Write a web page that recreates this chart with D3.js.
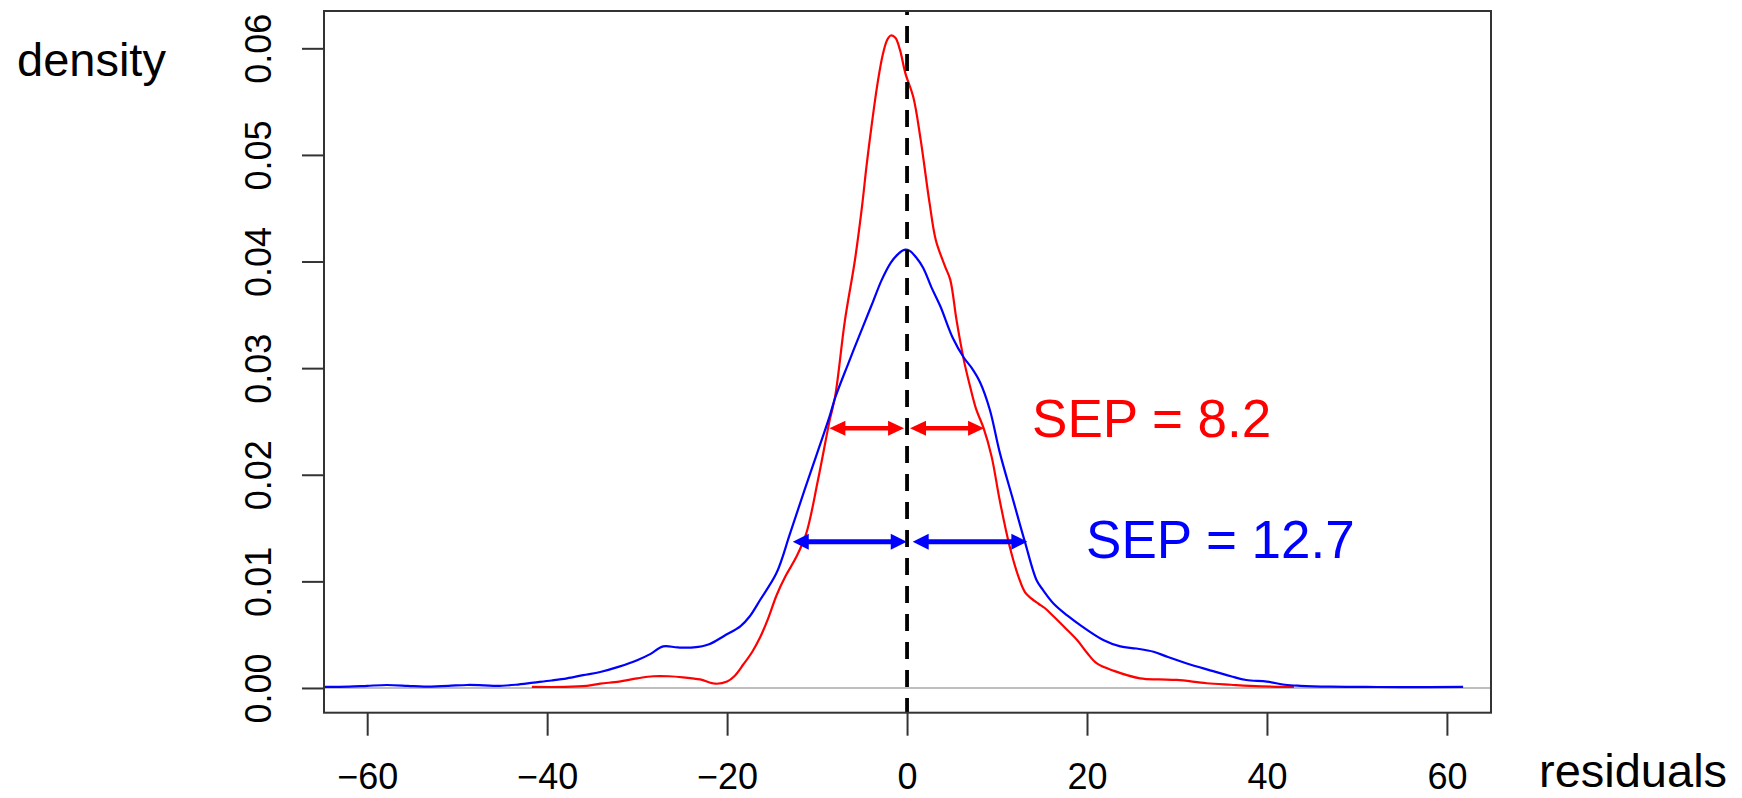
<!DOCTYPE html>
<html>
<head>
<meta charset="utf-8">
<script src="https://cdn.jsdelivr.net/npm/d3@7"></script>
<style>
  html, body { margin: 0; padding: 0; background: #fff; }
  svg { display: block; font-family: "Liberation Sans", Arial, sans-serif; }
</style>
</head>
<body>
<svg id="chart" width="1742" height="798"></svg>
<script>
// ---------------- data ----------------
const xTicks = [-60, -40, -20, 0, 20, 40, 60];
const xTickLabels = ["\u221260", "\u221240", "\u221220", "0", "20", "40", "60"];
const yTicks = [0, 0.01, 0.02, 0.03, 0.04, 0.05, 0.06];
const yTickLabels = ["0.00", "0.01", "0.02", "0.03", "0.04", "0.05", "0.06"];

const redX = [-41.7, -38, -35.6, -34.1, -32, -30, -28.2, -26.5, -24.9, -23, -21.3, -20, -19.2, -18.2, -17.2, -16.3, -15.4, -14.5, -13.5, -12.3, -11.2, -9.9, -8.6, -8.0, -6.9, -5.8, -5.0, -4.5, -3.9, -3.3, -2.7, -2.2, -1.8, -1.3, -0.8, -0.2, 0.7, 1.5, 2.5, 3.2, 4.2, 4.8, 5.5, 6.3, 7.0, 7.7, 8.5, 9.4, 10.3, 11.4, 12.4, 13.1, 13.8, 14.6, 15.3, 16.3, 17.5, 18.9, 20, 21.1, 23, 25.9, 28, 30, 33.3, 36, 38.1, 41.8, 43];
const redY = [0.0001, 0.0001, 0.0002, 0.0004, 0.0006, 0.0009, 0.0011, 0.0011, 0.0010, 0.0008, 0.0004, 0.0006, 0.0011, 0.0022, 0.0034, 0.0048, 0.0066, 0.0087, 0.0105, 0.0123, 0.0145, 0.0195, 0.0251, 0.0273, 0.0345, 0.0401, 0.0452, 0.0490, 0.0530, 0.0566, 0.0594, 0.0608, 0.0612, 0.0610, 0.0599, 0.0577, 0.0554, 0.0515, 0.0455, 0.0420, 0.0396, 0.0383, 0.0345, 0.0308, 0.0283, 0.0261, 0.0244, 0.0217, 0.0176, 0.0133, 0.0104, 0.0090, 0.0084, 0.0079, 0.0075, 0.0067, 0.0057, 0.0045, 0.0033, 0.0023, 0.0016, 0.0009, 0.0008, 0.00075, 0.00044, 0.0003, 0.0002, 0.0001, 0.0001];

const blueX = [-64.8, -62, -60, -57.8, -55.5, -53.7, -51, -48.9, -47, -45.6, -43.5, -41.5, -39.5, -37.8, -36, -34.1, -32, -30, -28.5, -27.1, -25.5, -23.7, -22, -20.3, -18.5, -17.5, -16.3, -14.5, -13, -11.5, -10, -8.6, -8.0, -6.5, -4.9, -3.8, -2.8, -1.8, -1.0, -0.3, 0.3, 1.0, 1.8, 2.7, 3.7, 5.1, 6.3, 7.2, 8.1, 9.2, 10.3, 11.8, 13.1, 14.4, 15.1, 16.3, 17.8, 19.4, 21.8, 23.7, 25.5, 27.4, 29, 31.1, 33.5, 36, 37.7, 40, 42, 43.7, 47, 51, 55, 61.8];
const blueY = [0.0001, 0.00012, 0.0002, 0.00028, 0.0002, 0.00012, 0.0002, 0.00028, 0.00025, 0.00019, 0.0003, 0.0005, 0.0007, 0.0009, 0.0012, 0.0015, 0.0020, 0.0026, 0.0032, 0.0039, 0.0038, 0.0038, 0.0041, 0.0049, 0.0058, 0.0067, 0.0083, 0.0108, 0.0145, 0.0183, 0.0220, 0.0255, 0.0272, 0.0305, 0.0339, 0.0362, 0.0383, 0.0399, 0.0407, 0.0411, 0.0410, 0.0404, 0.0394, 0.0376, 0.0358, 0.0328, 0.0310, 0.0300, 0.0287, 0.0261, 0.0221, 0.0176, 0.0137, 0.0101, 0.0092, 0.0079, 0.0068, 0.0058, 0.0045, 0.0039, 0.0037, 0.0034, 0.0029, 0.0023, 0.0017, 0.0011, 0.00075, 0.0006, 0.0003, 0.0002, 0.00012, 0.0001, 0.00008, 0.0001];

const sepLabels = ["SEP = 8.2", "SEP = 12.7"];
const sepColors = ["#ff0000", "#0000ff"];
const sepLabelX = [13.9, 19.9];
const sepLabelY = [0.02352, 0.01217];
const arrowLevels = [0.02436, 0.01372];
const redArrows = [[-8.63, -0.33], [0.33, 8.56]];
const blueArrows = [[-12.7, -0.03], [0.63, 13.37]];

const xDomain = [-64.8, 64.9];
const yDomain = [-0.00232, 0.0635];

// ---------------- layout ----------------
const plot = { left: 324, right: 1491, top: 11, bottom: 712.7 };
const svg = d3.select("#chart");

const x = d3.scaleLinear().domain(xDomain).range([plot.left, plot.right]);
const y = d3.scaleLinear().domain(yDomain).range([plot.bottom, plot.top]);

svg.append("defs").append("clipPath").attr("id", "clip")
  .append("rect")
  .attr("x", plot.left).attr("y", plot.top)
  .attr("width", plot.right - plot.left).attr("height", plot.bottom - plot.top);

const g = svg.append("g").attr("clip-path", "url(#clip)");

// zero line
g.append("line")
  .attr("x1", plot.left).attr("x2", plot.right)
  .attr("y1", y(0)).attr("y2", y(0))
  .attr("stroke", "#bebebe").attr("stroke-width", 2);

const line = d3.line().curve(d3.curveCatmullRom.alpha(0.5))
  .x(d => x(d[0])).y(d => y(d[1]));

g.append("path")
  .datum(redX.map((v, i) => [v, redY[i]]))
  .attr("d", line).attr("fill", "none")
  .attr("stroke", "#ff0000").attr("stroke-width", 2.2);

g.append("path")
  .datum(blueX.map((v, i) => [v, blueY[i]]))
  .attr("d", line).attr("fill", "none")
  .attr("stroke", "#0000ff").attr("stroke-width", 2.2);

// dashed vertical line at 0
g.append("line")
  .attr("x1", x(0)).attr("x2", x(0))
  .attr("y1", plot.bottom + 2.3).attr("y2", plot.top)
  .attr("stroke", "#000").attr("stroke-width", 3.8)
  .attr("stroke-dasharray", "17,11");

// arrows
function drawArrow(a, b, lvl, color, headLen, headHalf, shaftW) {
  const x1 = x(a), x2 = x(b), yy = y(lvl);
  svg.append("line")
    .attr("x1", x1 + headLen - 1).attr("x2", x2 - headLen + 1)
    .attr("y1", yy).attr("y2", yy)
    .attr("stroke", color).attr("stroke-width", shaftW);
  svg.append("path")
    .attr("d", `M${x1},${yy} L${x1 + headLen},${yy - headHalf} L${x1 + headLen},${yy + headHalf} Z`)
    .attr("fill", color);
  svg.append("path")
    .attr("d", `M${x2},${yy} L${x2 - headLen},${yy - headHalf} L${x2 - headLen},${yy + headHalf} Z`)
    .attr("fill", color);
}
redArrows.forEach(([a, b]) => drawArrow(a, b, arrowLevels[0], "#ff0000", 16, 7.5, 4.5));
blueArrows.forEach(([a, b]) => drawArrow(a, b, arrowLevels[1], "#0000ff", 16, 8, 5));

// SEP labels
sepLabels.forEach((t, i) => {
  svg.append("text")
    .attr("x", x(sepLabelX[i])).attr("y", y(sepLabelY[i]))
    .attr("fill", sepColors[i])
    .attr("font-size", 53)
    .text(t);
});

// box
svg.append("rect")
  .attr("x", plot.left).attr("y", plot.top)
  .attr("width", plot.right - plot.left).attr("height", plot.bottom - plot.top)
  .attr("fill", "none").attr("stroke", "#333").attr("stroke-width", 2);

// x axis
const xAxis = d3.axisBottom(x).tickValues(xTicks)
  .tickFormat((d, i) => xTickLabels[i]).tickSize(23).tickPadding(30);
const gx = svg.append("g").attr("transform", `translate(0,${plot.bottom})`).call(xAxis);
gx.select(".domain").remove();
gx.selectAll(".tick line").attr("stroke", "#333").attr("stroke-width", 2);
gx.selectAll(".tick text").attr("font-size", 36).attr("fill", "#000")
  .attr("font-family", '"Liberation Sans", Arial, sans-serif')
  .attr("dy", null).attr("y", 789 - plot.bottom);

// y axis
const yAxis = d3.axisLeft(y).tickValues(yTicks)
  .tickFormat((d, i) => yTickLabels[i]).tickSize(22);
const gy = svg.append("g").attr("transform", `translate(${plot.left},0)`).call(yAxis);
gy.select(".domain").remove();
gy.selectAll(".tick line").attr("stroke", "#333").attr("stroke-width", 2);
gy.selectAll(".tick text")
  .attr("font-size", 36).attr("fill", "#000")
  .attr("font-family", '"Liberation Sans", Arial, sans-serif')
  .attr("text-anchor", "middle")
  .attr("x", null).attr("dy", null)
  .attr("transform", `translate(${271 - plot.left},0) rotate(-90)`)
  .attr("y", 0);

// axis titles
svg.append("text").attr("x", 17).attr("y", 76)
  .attr("font-size", 47).attr("fill", "#000").text("density");
svg.append("text").attr("x", 1539).attr("y", 787)
  .attr("font-size", 47).attr("fill", "#000").text("residuals");
</script>
</body>
</html>
